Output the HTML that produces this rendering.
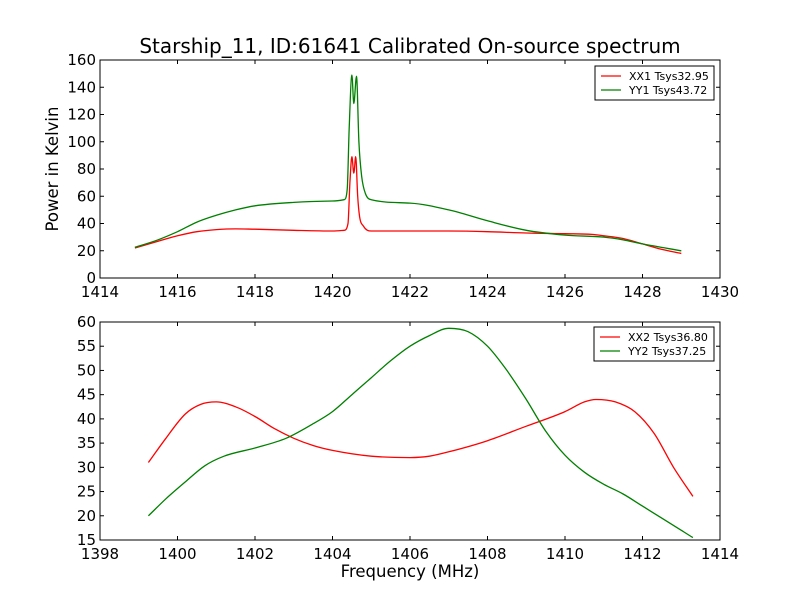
<!DOCTYPE html>
<html><head><meta charset="utf-8"><style>
html,body{margin:0;padding:0;background:#fff;}
svg{display:block;font-family:"DejaVu Sans","Liberation Sans",sans-serif;}
</style></head><body>
<svg id="c" width="800" height="600" viewBox="0 0 800 600">
<rect width="800" height="600" fill="#fff"/>
<text x="410" y="53" font-size="20" text-anchor="middle">Starship_11, ID:61641 Calibrated On-source spectrum</text>
<text transform="translate(58,169) rotate(-90)" font-size="16.5" text-anchor="middle">Power in Kelvin</text>
<text x="410" y="577" font-size="16.5" text-anchor="middle">Frequency (MHz)</text>
<g id="g"></g>
</svg>
<script>
const topRedX=[1414.9,1415.5,1416,1416.5,1417,1417.5,1418,1419,1420,1420.3,1420.4,1420.45,1420.5,1420.55,1420.6,1420.65,1420.7,1420.8,1420.9,1421,1422,1423,1424,1425,1426,1426.7,1427,1427.5,1428,1428.5,1429];
const topRedY=[22,27,31,34,35.5,36,35.8,35,34.5,35,40,70,89,77,89,60,45,38,35,34.5,34.5,34.5,34,33,32.5,32,31,29,25,21,18];
const topGreenX=[1414.9,1415.5,1416,1416.5,1417,1417.5,1418,1419,1420,1420.3,1420.38,1420.43,1420.5,1420.55,1420.62,1420.68,1420.75,1420.85,1421,1422,1423,1424,1425,1426,1427,1427.5,1428,1429];
const topGreenY=[22.5,28,34,41,46,50,53,55.5,56.5,57.5,65,110,149,128,148,100,75,62,57.5,55,50,42,35,31.5,30,28,25,20];
const botRedX=[1399.25,1399.7,1400.2,1400.6,1401,1401.5,1402,1402.5,1403,1403.5,1404,1405,1406,1406.5,1407,1408,1409,1410,1410.5,1410.8,1411.3,1411.8,1412.3,1412.8,1413.3];
const botRedY=[31,36,41,43,43.5,42.5,40.5,38,36,34.5,33.5,32.3,32,32.3,33.2,35.5,38.5,41.5,43.5,44,43.5,41.5,37,30,24];
const botGreenX=[1399.25,1399.7,1400.2,1400.7,1401.2,1402,1402.8,1403.5,1404,1404.5,1405,1405.5,1406,1406.5,1407,1407.5,1408,1408.5,1409,1409.5,1410,1410.5,1411,1411.5,1412,1412.5,1413,1413.3];
const botGreenY=[20,23.5,27,30.3,32.3,34,36,39,41.5,45,48.5,52,55,57.2,58.7,58,55,50,44,37.5,32.5,29,26.5,24.5,22,19.5,17,15.5];
const topXTicks=[1414,1416,1418,1420,1422,1424,1426,1428,1430];
const topYTicks=[0,20,40,60,80,100,120,140,160];
const botXTicks=[1398,1400,1402,1404,1406,1408,1410,1412,1414];
const botYTicks=[15,20,25,30,35,40,45,50,55,60];
const legTop=["XX1 Tsys32.95","YY1 Tsys43.72"];
const legBot=["XX2 Tsys36.80","YY2 Tsys37.25"];
const NS="http://www.w3.org/2000/svg";
const g=document.getElementById('g');
function mk(t,a,p){const e=document.createElementNS(NS,t);for(const k in a)e.setAttribute(k,a[k]);(p||g).appendChild(e);return e;}
function monoPath(P){
  const n=P.length,d=[],m=[];
  for(let i=0;i<n-1;i++)d.push((P[i+1][1]-P[i][1])/(P[i+1][0]-P[i][0]));
  m[0]=d[0];m[n-1]=d[n-2];
  for(let i=1;i<n-1;i++)m[i]=(d[i-1]*d[i]<=0)?0:(d[i-1]+d[i])/2;
  for(let i=0;i<n-1;i++){if(d[i]===0){m[i]=0;m[i+1]=0;continue;}
    const a=m[i]/d[i],b=m[i+1]/d[i],s=a*a+b*b;if(s>9){const t=3/Math.sqrt(s);m[i]=t*a*d[i];m[i+1]=t*b*d[i];}}
  let s='M'+P[0][0].toFixed(1)+','+P[0][1].toFixed(1);
  for(let i=0;i<n-1;i++){const h=(P[i+1][0]-P[i][0])/3;
    s+='C'+(P[i][0]+h).toFixed(1)+','+(P[i][1]+m[i]*h).toFixed(1)+' '+(P[i+1][0]-h).toFixed(1)+','+(P[i+1][1]-m[i+1]*h).toFixed(1)+' '+P[i+1][0].toFixed(1)+','+P[i+1][1].toFixed(1);}
  return s;
}
function panel(name,L,T,R,B,x0,x1,y0,y1,xt,yt,series,leg,lx,ly,lw){
  const sx=v=>L+(v-x0)/(x1-x0)*(R-L), sy=v=>B-(v-y0)/(y1-y0)*(B-T);
  const pg=mk('g',{});
  
  
  series.forEach(s=>{
    const P=s.x.map((v,i)=>[sx(v),sy(s.y[i])]);
    const p=mk('path',{d:monoPath(P),fill:'none',stroke:s.c,'stroke-width':1.3},pg);
    
    
  });
  const fr=mk('rect',{x:L,y:T,width:R-L,height:B-T,fill:'none',stroke:'#000','stroke-width':1},pg);
  
  
  xt.forEach(v=>{const x=sx(v);
    mk('line',{x1:x,x2:x,y1:B,y2:B-4,stroke:'#000'},pg);mk('line',{x1:x,x2:x,y1:T,y2:T+4,stroke:'#000'},pg);
    const t=mk('text',{x:x,y:B+19,'font-size':15,'text-anchor':'middle'},pg);t.textContent=v;
    
    });
  yt.forEach(v=>{const y=sy(v);
    mk('line',{x1:L,x2:L+4,y1:y,y2:y,stroke:'#000'},pg);mk('line',{x1:R,x2:R-4,y1:y,y2:y,stroke:'#000'},pg);
    const t=mk('text',{x:L-4,y:y+5,'font-size':15,'text-anchor':'end'},pg);t.textContent=v;
    
    });
  const lg=mk('g',{},pg);
  
  
  mk('rect',{x:lx,y:ly,width:lw,height:34,fill:'#fff',stroke:'#000'},lg);
  leg.forEach((s,i)=>{const y=ly+10+i*14;
    mk('line',{x1:lx+6,x2:lx+26,y1:y,y2:y,stroke:series[i].c,'stroke-width':1.3},lg);
    const t=mk('text',{x:lx+34,y:y+4,'font-size':11},lg);t.textContent=s;
    
    });
}
panel('top',100,60,720,278,1414,1430,0,160,topXTicks,topYTicks,
 [{x:topRedX,y:topRedY,c:'#ff0000',n:'xx1'},{x:topGreenX,y:topGreenY,c:'#008000',n:'yy1'}],legTop,595,66,119);
panel('bottom',100,322,720,540,1398,1414,15,60,botXTicks,botYTicks,
 [{x:botRedX,y:botRedY,c:'#ff0000',n:'xx2'},{x:botGreenX,y:botGreenY,c:'#008000',n:'yy2'}],legBot,594,327,120);
</script>
</body></html>
